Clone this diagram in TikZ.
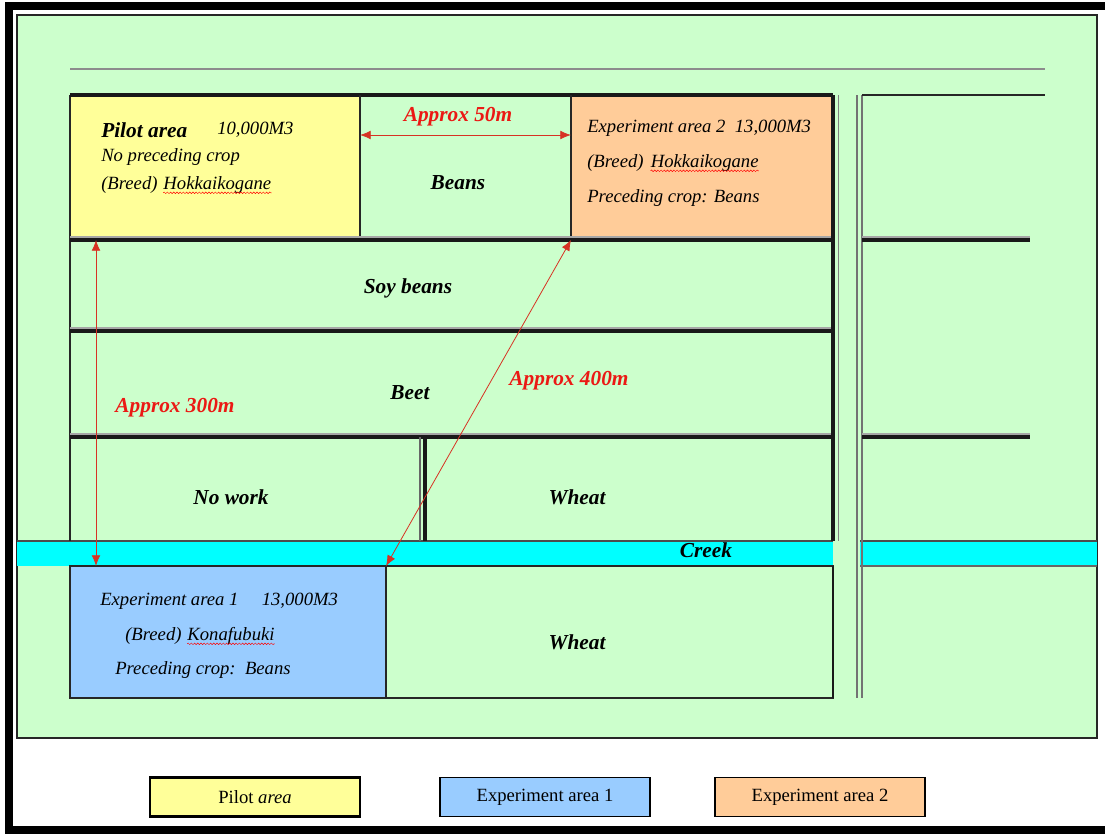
\documentclass[tikz,border=0pt]{standalone}
\usepackage{fontspec}
\setmainfont{Liberation Serif}
\usepackage{tikz}
\usetikzlibrary{arrows.meta,positioning,decorations.pathmorphing}

\definecolor{fieldgreen}{RGB}{204,255,204}
\definecolor{pilotyellow}{RGB}{255,255,153}
\definecolor{expblue}{RGB}{153,204,255}
\definecolor{exporange}{RGB}{255,204,153}
\definecolor{creekcyan}{RGB}{0,255,255}
\definecolor{distred}{RGB}{235,25,20}
\definecolor{distline}{RGB}{215,50,35}

\begin{document}
\begin{tikzpicture}[x=0.75pt,y=-0.75pt,
crop/.style={
		font=\bfseries\itshape\fontsize{16}{18}\selectfont,
		inner sep=0pt,
		},
note/.style={
		font=\itshape\fontsize{14}{16}\selectfont,
		anchor=west, inner sep=0pt,
		},
dist/.style={<->, >={Latex[length=8pt,width=6.5pt]}, draw=distline, line width=0.6pt},
distlabel/.style={
		text=distred, inner sep=0pt,
		font=\bfseries\itshape\fontsize{16}{18}\selectfont,
		},
spellwave/.style={
		draw=red, line width=0.35pt, decorate,
		decoration={snake, amplitude=0.6pt, segment length=2.4pt},
		},
ridge/.style={line width=3pt, black!90},
ridgeshade/.style={line width=1.5pt, black!35},
fence/.style={line width=1.3pt, black!85},
lane/.style={line width=0.9pt, black!55},
legendbox/.style={
		draw=black, line width=1pt,
		minimum width=157.5pt, minimum height=29pt,
		font=\fontsize{14}{16}\selectfont,
		}
]

\useasboundingbox (0,0) rectangle (1105,833);
\fill[white] (0,0) rectangle (1105,833);

% outer frame and field sheet
\draw[line width=6pt, black] (1105,6) -- (9,6) -- (9,830) -- (1105,830);
\fill[fieldgreen] (17,15) rectangle (1097,738);
\draw[line width=1.5pt, black!85] (17,15) rectangle (1097,738);

% plots
\fill[pilotyellow] (70,95) rectangle (360,240);
\fill[exporange] (571,95) rectangle (833,240);
\fill[expblue] (70,566) rectangle (386,698);
\fill[creekcyan] (17,541) rectangle (833,566);
\fill[creekcyan] (860,541) rectangle (1097,566);
\draw[line width=0.8pt, black!70] (17,541) -- (833,541) (860,541) -- (1097,541);
\draw[line width=0.8pt, black!60] (860,566) -- (1097,566);

% road along the top
\draw[line width=1.5pt, black!45] (70,69) -- (1045,69);

% field borders
\draw[fence] (70,95) -- (70,541);
\draw[ridge] (70,95) -- (833,95);
\draw[fence] (360,95) -- (360,240);
\draw[fence] (571,95) -- (571,240);
\foreach \y in {240,331,437}
{
  \draw[ridgeshade] (70,\y-3) -- (833,\y-3);
  \draw[ridge] (70,\y) -- (833,\y);
}
\draw[ridge] (425,437) -- (425,541);
\draw[line width=0.8pt, black!60] (420,437) -- (420,541);
\draw[ridge] (833,95) -- (833,541);
\draw[line width=0.6pt, black!50] (838,95) -- (838,541);
\draw[fence] (70,566) -- (833,566);
\draw[fence] (70,566) rectangle (833,698);
\draw[fence] (386,566) -- (386,698);
\draw[line width=2.2pt, black!90] (833,566) -- (833,698);

% lane on the right
\foreach \x in {857,862}
  \draw[lane] (\x,95) -- (\x,698);
\draw[fence] (862,95) -- (1045,95);
\foreach \y in {240,437}
{
  \draw[ridgeshade] (862,\y-3) -- (1030,\y-3);
  \draw[ridge] (862,\y) -- (1030,\y);
}

% plot labels
\node[crop, anchor=west] (pilotname) at (101,130) {Pilot area};
\node[note] (pilotvol) at (217,130) {10,000M3};
\node[note] (pilotprev) at (101,157) {No preceding crop};
\node[note] (pilotbreed) at (101,185) {(Breed)};
\node[note, anchor=base west] (pilotkind) at ([xshift=4pt]pilotbreed.base east) {Hokkaikogane};

\node[note] (exptwoname) at (587,128) {Experiment area 2\ \ 13,000M3};
\node[note] (exptwobreed) at (587,163) {(Breed)};
\node[note, anchor=base west] (exptwokind) at ([xshift=5pt]exptwobreed.base east) {Hokkaikogane};
\node[note] (exptwoprev) at (587,198) {Preceding crop: Beans};

\node[note] (exponename) at (100,601) {Experiment area 1\quad\ 13,000M3};
\node[note] (exponebreed) at (125,636) {(Breed)};
\node[note, anchor=base west] (exponekind) at ([xshift=4pt]exponebreed.base east) {Konafubuki};
\node[note] (exponeprev) at (115,670) {Preceding crop:\ \ Beans};

\foreach \w in {pilotkind,exptwokind,exponekind}
  \draw[spellwave] ([yshift=-2.5pt]\w.base west) -- ([yshift=-2.5pt]\w.base east);

\node[crop] (beans) at (458,183) {Beans};
\node[crop] (soy) at (408,288) {Soy beans};
\node[crop] (beet) at (410,393) {Beet};
\node[crop] (nowork) at (231,497) {No work};
\node[crop] (wheatup) at (577,497) {Wheat};
\node[crop] (creek) at (706,550) {Creek};
\node[crop] (wheatdown) at (577,642) {Wheat};

% distances
\coordinate (pilotE) at (360,135);
\coordinate (exptwoW) at (571,135);
\coordinate (pilotS) at (96,240);
\coordinate (exponeN) at (96,566);
\coordinate (exptwoSW) at (571,240);
\coordinate (exponeNE) at (386,566);

\draw[dist] (pilotE) -- (exptwoW);
\draw[dist] (pilotS) -- (exponeN);
\draw[dist] (exptwoSW) -- (exponeNE);

\node[distlabel] (fifty) at (458,117) {Approx 50m};
\node[distlabel] (threehundred) at (175,408) {Approx 300m};
\node[distlabel] (fourhundred) at (569,381) {Approx 400m};

% legend
\node[legendbox, fill=pilotyellow, line width=2pt] (legpilot) at (255,797) {Pilot \textit{area}};
\node[legendbox, fill=expblue] (legone) at (545,797) {Experiment area 1};
\node[legendbox, fill=exporange] (legtwo) at (820,797) {Experiment area 2};
\end{tikzpicture}
\end{document}
